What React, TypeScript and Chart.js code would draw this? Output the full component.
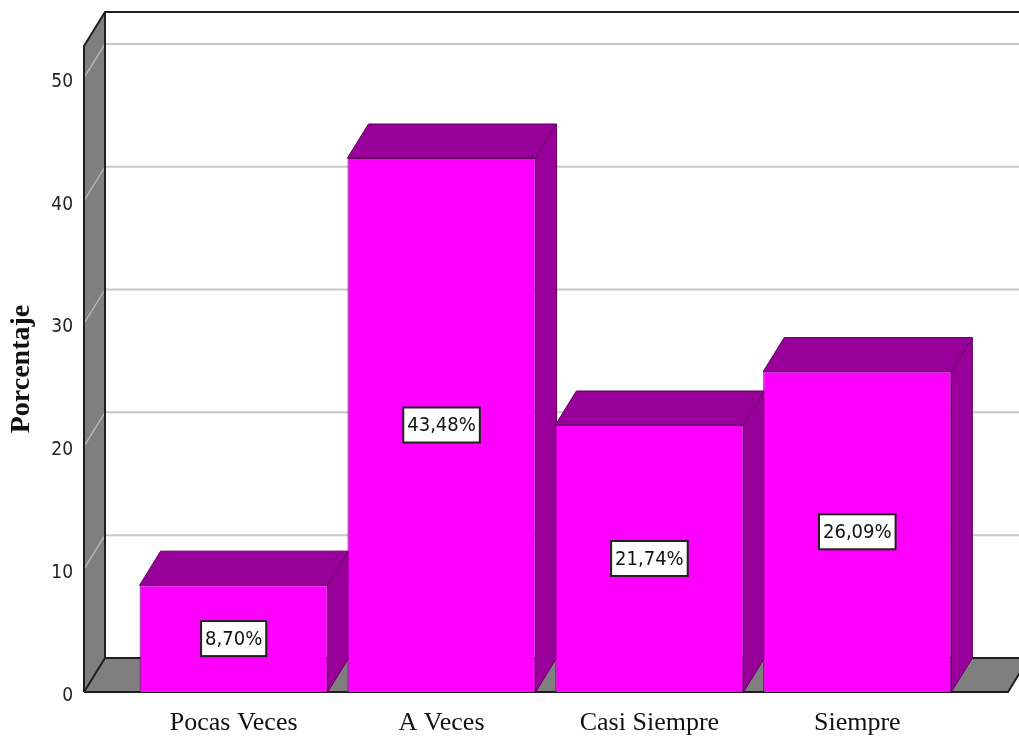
import React, { useEffect, useRef } from "react";
import { Chart, registerables } from "chart.js";

Chart.register(...registerables);

const categories = ["Pocas Veces", "A Veces", "Casi Siempre", "Siempre"];
const percentages = [8.7, 43.48, 21.74, 26.09];
const yTickValues = [0, 10, 20, 30, 40, 50];
const yAxisMax = 52.6;
const yAxisTitle = "Porcentaje";

const FRONT = "#FF00FF";
const DARK = "#990099";
const EDGE = "#5e005e";
const WALL = "#7f7f7f";
const DX = 21;
const DY = -34;

const fmt = (v: number) => v.toFixed(2).replace(".", ",") + "%";

const box3d = {
  id: "box3d",
  beforeDatasetsDraw(chart: any) {
    const { ctx, chartArea, scales } = chart;
    const ys = scales.y;
    const L = chartArea.left;
    const R = chartArea.right;
    const y0 = ys.getPixelForValue(0);
    const yTop = ys.getPixelForValue(yAxisMax);
    const W = chart.width;
    ctx.save();
    // back wall gridlines
    ctx.strokeStyle = "#c8c8c8";
    ctx.lineWidth = 2;
    yTickValues.forEach((v) => {
      if (v === 0) return;
      const y = ys.getPixelForValue(v) + DY;
      ctx.beginPath();
      ctx.moveTo(L + DX, y);
      ctx.lineTo(W, y);
      ctx.stroke();
    });
    // left wall
    ctx.fillStyle = WALL;
    ctx.beginPath();
    ctx.moveTo(L, yTop);
    ctx.lineTo(L + DX, yTop + DY);
    ctx.lineTo(L + DX, y0 + DY);
    ctx.lineTo(L, y0);
    ctx.closePath();
    ctx.fill();
    // left wall gridlines
    ctx.strokeStyle = "#bdbdbd";
    ctx.lineWidth = 1.2;
    yTickValues.forEach((v) => {
      const y = ys.getPixelForValue(v);
      ctx.beginPath();
      ctx.moveTo(L, y);
      ctx.lineTo(L + DX, y + DY);
      ctx.stroke();
    });
    // floor
    ctx.fillStyle = WALL;
    ctx.beginPath();
    ctx.moveTo(L, y0);
    ctx.lineTo(R, y0);
    ctx.lineTo(R + DX, y0 + DY);
    ctx.lineTo(L + DX, y0 + DY);
    ctx.closePath();
    ctx.fill();
    // edges
    ctx.strokeStyle = "#1e1e1e";
    ctx.lineWidth = 2;
    ctx.beginPath();
    ctx.moveTo(L, y0);
    ctx.lineTo(L, yTop);
    ctx.lineTo(L + DX, yTop + DY);
    ctx.lineTo(W, yTop + DY);
    ctx.stroke();
    ctx.beginPath();
    ctx.moveTo(L + DX, yTop + DY);
    ctx.lineTo(L + DX, y0 + DY);
    ctx.lineTo(W, y0 + DY);
    ctx.stroke();
    ctx.beginPath();
    ctx.moveTo(L, y0);
    ctx.lineTo(R, y0);
    ctx.lineTo(R + DX, y0 + DY);
    ctx.stroke();
    ctx.beginPath();
    ctx.moveTo(L, y0);
    ctx.lineTo(L + DX, y0 + DY);
    ctx.stroke();
    // bar top and side faces
    const meta = chart.getDatasetMeta(0);
    ctx.fillStyle = DARK;
    ctx.strokeStyle = EDGE;
    ctx.lineWidth = 1;
    meta.data.forEach((bar: any) => {
      const { x, y, base, width } = bar.getProps(["x", "y", "base", "width"], true);
      const l = x - width / 2;
      const r = x + width / 2;
      ctx.beginPath();
      ctx.moveTo(l, y);
      ctx.lineTo(l + DX, y + DY);
      ctx.lineTo(r + DX, y + DY);
      ctx.lineTo(r, y);
      ctx.closePath();
      ctx.fill();
      ctx.stroke();
      ctx.beginPath();
      ctx.moveTo(r, y);
      ctx.lineTo(r + DX, y + DY);
      ctx.lineTo(r + DX, base + DY);
      ctx.lineTo(r, base);
      ctx.closePath();
      ctx.fill();
      ctx.stroke();
    });
    ctx.restore();
  },
  afterDatasetsDraw(chart: any) {
    const { ctx } = chart;
    const meta = chart.getDatasetMeta(0);
    ctx.save();
    ctx.font = "20px 'Liberation Sans Narrow', 'DejaVu Sans Condensed', sans-serif";
    ctx.textAlign = "center";
    ctx.textBaseline = "middle";
    meta.data.forEach((bar: any, i: number) => {
      const { x, y, base } = bar.getProps(["x", "y", "base"], true);
      const cy = (y + base) / 2;
      const text = fmt(percentages[i]);
      const tw = ctx.measureText(text).width;
      const bw = tw + 8;
      const bh = 35;
      ctx.fillStyle = "#ffffff";
      ctx.fillRect(x - bw / 2, cy - bh / 2, bw, bh);
      ctx.strokeStyle = "#222222";
      ctx.lineWidth = 2;
      ctx.strokeRect(x - bw / 2, cy - bh / 2, bw, bh);
      ctx.fillStyle = "#111111";
      ctx.fillText(text, x, cy + 1);
    });
    ctx.restore();
  },
};

export default function App() {
  const ref = useRef<HTMLCanvasElement>(null);
  useEffect(() => {
    if (!ref.current) return;
    const chart = new Chart(ref.current, {
      type: "bar",
      data: {
        datasets: [
          {
            data: categories.map((_, i) => ({ x: i, y: percentages[i] })) as any,
            backgroundColor: FRONT,
            borderColor: EDGE,
            borderWidth: 1,
            barPercentage: 0.905,
            categoryPercentage: 1,
          },
        ],
      },
      options: {
        responsive: false,
        animation: false,
        layout: { padding: { top: 46, right: 11, left: 0, bottom: 0 } },
        plugins: { legend: { display: false }, tooltip: { enabled: false } },
        scales: {
          x: {
            type: "linear",
            offset: false,
            min: -0.72,
            max: 3.725,
            grid: { display: false, drawTicks: false },
            border: { display: false },
            afterBuildTicks: (s: any) => {
              s.ticks = categories.map((_, i) => ({ value: i }));
            },
            afterFit: (s: any) => {
              s.height = 47;
            },
            ticks: {
              autoSkip: false,
              maxRotation: 0,
              padding: 16,
              color: "#111",
              font: { family: "'Liberation Serif', 'Times New Roman', serif", size: 26 },
              callback: (v: any) => categories[v] ?? "",
            },
          },
          y: {
            min: 0,
            max: yAxisMax,
            grid: { display: false, drawTicks: false },
            border: { display: false },
            afterBuildTicks: (s: any) => {
              s.ticks = yTickValues.map((v) => ({ value: v }));
            },
            afterFit: (s: any) => {
              s.width = 84;
            },
            ticks: {
              padding: 11,
              labelOffset: 4,
              color: "#222",
              font: { family: "'Liberation Sans Narrow', 'DejaVu Sans Condensed', sans-serif", size: 19 },
            },
            title: {
              display: true,
              text: yAxisTitle,
              color: "#111",
              padding: { top: 5, bottom: 0 },
              font: { family: "'Liberation Serif', 'Times New Roman', serif", size: 28, weight: "bold" },
            },
          },
        },
      },
      plugins: [box3d],
    });
    return () => chart.destroy();
  }, []);
  return (
    <div style={{ position: "fixed", left: 0, top: 0, width: 1019, height: 739, background: "#fff" }}>
      <canvas ref={ref} width={1019} height={739} style={{ display: "block" }} />
    </div>
  );
}
